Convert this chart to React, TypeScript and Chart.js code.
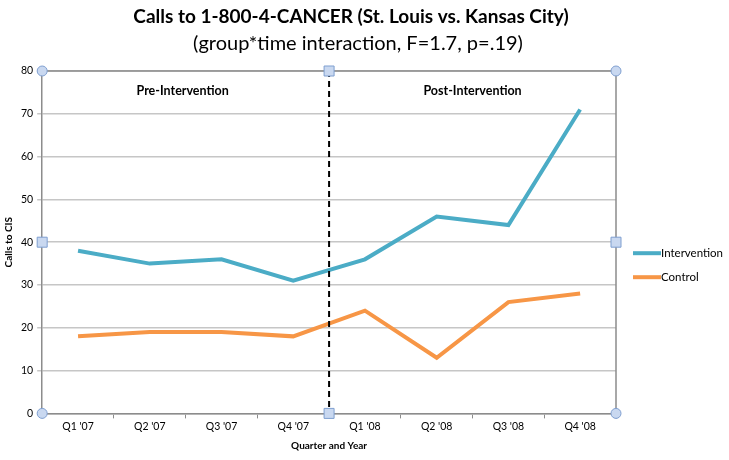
import React, { useEffect, useRef } from "react";
import { Chart, registerables } from "chart.js";

Chart.register(...registerables);

const categories = ["Q1 '07", "Q2 '07", "Q3 '07", "Q4 '07", "Q1 '08", "Q2 '08", "Q3 '08", "Q4 '08"];
const intervention = [38, 35, 36, 31, 36, 46, 44, 71];
const control = [18, 19, 19, 18, 24, 13, 26, 28];
const phaseLabels = ["Pre-Intervention", "Post-Intervention"];
const titleText = "Calls to 1-800-4-CANCER (St. Louis vs. Kansas City)";
const subtitleText = "(group*time interaction, F=1.7, p=.19)";

const FONT = "Lato, 'Open Sans', sans-serif";
const TEAL = "#4bacc6";
const ORANGE = "#f79646";

const decorPlugin = {
  id: "decor",
  afterDatasetsDraw(chart: any) {
    const { ctx, chartArea: a, scales } = chart;
    const x = scales.x;
    ctx.save();
    // titles
    ctx.fillStyle = "#000";
    ctx.textAlign = "center";
    ctx.textBaseline = "middle";
    ctx.font = `bold 19px ${FONT}`;
    ctx.fillText(titleText, 351, 17);
    ctx.font = `20px ${FONT}`;
    ctx.fillText(subtitleText, 358, 44);
    // border top/right
    ctx.strokeStyle = "#8c8c8c";
    ctx.lineWidth = 1.5;
    ctx.beginPath();
    ctx.moveTo(a.left, a.top);
    ctx.lineTo(a.right, a.top);
    ctx.lineTo(a.right, a.bottom);
    ctx.stroke();
    // divider
    const mid = (x.getPixelForValue(3) + x.getPixelForValue(4)) / 2;
    ctx.strokeStyle = "#000";
    ctx.lineWidth = 2;
    ctx.setLineDash([6, 4]);
    ctx.beginPath();
    ctx.moveTo(mid, a.top);
    ctx.lineTo(mid, a.bottom);
    ctx.stroke();
    ctx.setLineDash([]);
    // phase labels
    ctx.fillStyle = "#000";
    ctx.font = `bold 12.5px ${FONT}`;
    ctx.textAlign = "center";
    ctx.textBaseline = "middle";
    ctx.fillText(phaseLabels[0], (x.getPixelForValue(1) + x.getPixelForValue(2)) / 2 - 3, a.top + 20);
    ctx.fillText(phaseLabels[1], (x.getPixelForValue(5) + x.getPixelForValue(6)) / 2, a.top + 20);
    // handles
    const cy = (a.top + a.bottom) / 2;
    const circ = (px: number, py: number) => {
      ctx.beginPath();
      ctx.arc(px, py, 5, 0, Math.PI * 2);
      ctx.fillStyle = "#c9d8f0";
      ctx.fill();
      ctx.strokeStyle = "#7f9fd0";
      ctx.lineWidth = 1;
      ctx.stroke();
    };
    const sq = (px: number, py: number) => {
      ctx.beginPath();
      ctx.rect(px - 5, py - 5, 10, 10);
      ctx.fillStyle = "#c9d8f0";
      ctx.fill();
      ctx.strokeStyle = "#7f9fd0";
      ctx.lineWidth = 1;
      ctx.stroke();
    };
    circ(a.left, a.top);
    circ(a.right, a.top);
    circ(a.left, a.bottom);
    circ(a.right, a.bottom);
    sq(a.left, cy);
    sq(a.right, cy);
    sq(mid, a.top);
    sq(mid, a.bottom);
    // legend
    const items = [
      { label: "Intervention", color: TEAL },
      { label: "Control", color: ORANGE },
    ];
    ctx.font = `11.5px ${FONT}`;
    ctx.textAlign = "left";
    items.forEach((it, i) => {
      const ly = cy + 11 + i * 24;
      ctx.strokeStyle = it.color;
      ctx.lineWidth = 4;
      ctx.beginPath();
      ctx.moveTo(a.right + 17, ly);
      ctx.lineTo(a.right + 45, ly);
      ctx.stroke();
      ctx.fillStyle = "#000";
      ctx.fillText(it.label, a.right + 45, ly);
    });
    ctx.restore();
  },
};

export default function App() {
  const ref = useRef<HTMLCanvasElement>(null);
  useEffect(() => {
    document.body.style.margin = "0";
    const chart = new Chart(ref.current!, {
      type: "line",
      data: {
        labels: categories,
        datasets: [
          { label: "Intervention", data: intervention, borderColor: TEAL, backgroundColor: TEAL, borderWidth: 4, pointRadius: 0, tension: 0 },
          { label: "Control", data: control, borderColor: ORANGE, backgroundColor: ORANGE, borderWidth: 4, pointRadius: 0, tension: 0 },
        ],
      },
      options: {
        animation: false,
        responsive: false,
        layout: { padding: { left: 3, right: 113, top: 71, bottom: 8 } },
        plugins: {
          legend: { display: false },
          tooltip: { enabled: false },
          title: { display: false },
        },
        scales: {
          x: {
            offset: true,
            grid: { offset: true, drawOnChartArea: false, drawTicks: true, tickLength: 5, color: "#8c8c8c" },
            border: { color: "#8c8c8c", width: 1.5 },
            ticks: { color: "#000", font: { family: FONT, size: 10.5 }, maxRotation: 0, padding: 2 },
            title: { display: true, text: "Quarter and Year", color: "#000", font: { family: FONT, size: 10, weight: "bold" }, padding: { top: 5, bottom: 0 } },
          },
          y: {
            min: 0,
            max: 80,
            ticks: { stepSize: 10, color: "#000", font: { family: FONT, size: 10.5 }, padding: 4 },
            grid: { color: "#c6c6c6", lineWidth: 1.5, tickLength: 5 },
            border: { color: "#8c8c8c", width: 1.5 },
            title: { display: true, text: "Calls to CIS", color: "#000", font: { family: FONT, size: 10, weight: "bold" }, padding: { top: 0, bottom: 2 } },
          },
        },
      },
      plugins: [decorPlugin],
    });
    return () => chart.destroy();
  }, []);
  return (
    <div style={{ width: 729, height: 460 }}>
      <canvas ref={ref} width={729} height={460} />
    </div>
  );
}
